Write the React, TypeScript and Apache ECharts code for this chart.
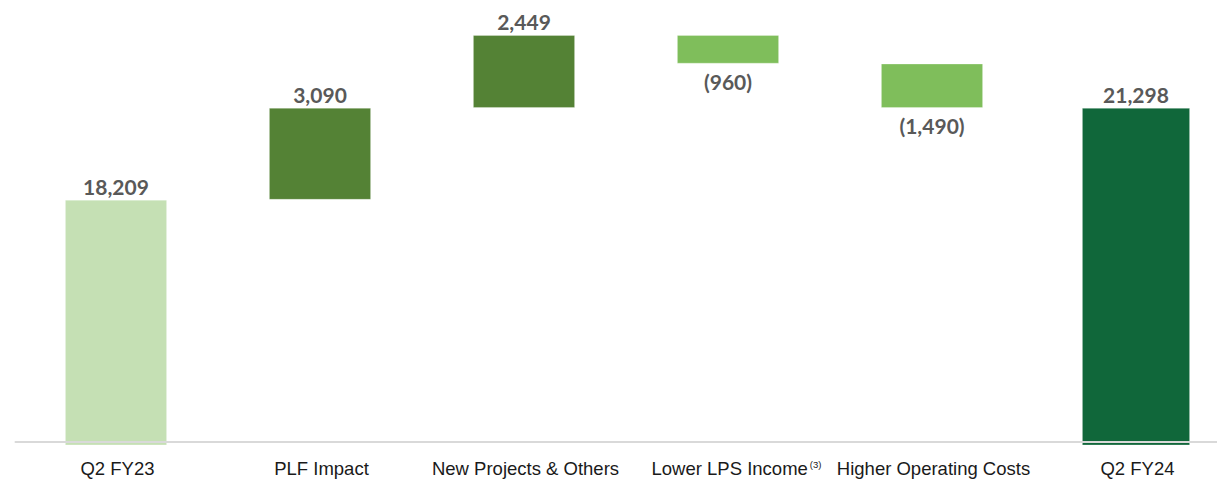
import React, { useEffect, useRef } from "react";
import * as echarts from "echarts";

const categories = [
  "Q2 FY23",
  "PLF Impact",
  "New Projects & Others",
  "Lower LPS Income",
  "Higher Operating Costs",
  "Q2 FY24",
];
const values = [18209, 3090, 2449, -960, -1490, 21298];
const isTotal = [true, false, false, false, false, true];
const barColors = ["#c5e0b4", "#548235", "#548235", "#7fbe5b", "#7fbe5b", "#10673a"];

const fmt = (v: number) =>
  v < 0 ? `(${Math.abs(v).toLocaleString("en-US")})` : v.toLocaleString("en-US");

export default function App() {
  const ref = useRef<HTMLDivElement>(null);

  useEffect(() => {
    if (!ref.current) return;
    const chart = echarts.init(ref.current, null, { renderer: "svg" });

    const lastIdx = values.length - 1;
    const base: any[] = [];
    const visible: any[] = [];
    const finalBar: any[] = [];
    let running = 0;
    values.forEach((v, i) => {
      let b = 0;
      if (isTotal[i]) {
        b = 0;
        running = v;
      } else {
        const next = running + v;
        b = Math.min(running, next);
        running = next;
      }
      const neg = v < 0;
      const item = {
        value: Math.abs(v),
        itemStyle: {
          color: barColors[i],
          borderColor: "rgba(255,255,255,0.35)",
          borderWidth: 0.8,
        },
        label: {
          position: neg ? "bottom" : "top",
          distance: neg ? 7 : 3,
        },
      };
      if (i === lastIdx) {
        base.push("-");
        visible.push("-");
        finalBar.push(item);
      } else {
        base.push(b);
        visible.push(item);
        finalBar.push("-");
      }
    });

    const labelStyle = {
      show: true,
      fontFamily: "Lato",
      fontWeight: "bold",
      fontSize: 21,
      color: "#595959",
      formatter: (p: any) => fmt(values[p.dataIndex]),
    };

    chart.setOption({
      animation: false,
      grid: {
        left: 15.5,
        top: 35,
        width: 1224,
        height: 410,
        outerBoundsMode: "none",
        containLabel: false,
      },
      xAxis: {
        type: "category",
        data: categories,
        offset: -3,
        z: 10,
        axisLine: { show: true, lineStyle: { color: "#d9d9d9", width: 2 } },
        axisTick: { show: false },
        axisLabel: {
          interval: 0,
          margin: 17,
          fontFamily: "Liberation Sans",
          fontSize: 18.5,
          lineHeight: 18.5,
          color: "#1a1a1a",
          formatter: (v: string) =>
            v === "Lower LPS Income" ? `{pad|}{a|${v}}{sup|(3)}` : v,
          rich: {
            pad: { width: 14, fontSize: 18.5, lineHeight: 18.5, fontFamily: "Liberation Sans" },
            a: { fontSize: 18.5, lineHeight: 18.5, fontFamily: "Liberation Sans", color: "#1a1a1a" },
            sup: {
              fontSize: 9.5,
              fontFamily: "Liberation Sans",
              color: "#1a1a1a",
              verticalAlign: "top",
              lineHeight: 10,
              padding: [0, 0, 0, 2],
            },
          },
        },
      },
      yAxis: {
        type: "value",
        show: false,
        min: 9960,
        max: 23750,
        splitLine: { show: false },
      },
      series: [
        {
          type: "bar",
          stack: "w",
          data: base,
          barWidth: 102,
          barGap: "-102.94%",
          itemStyle: { color: "transparent" },
          silent: true,
        },
        {
          type: "bar",
          stack: "w",
          data: visible,
          barWidth: 102,
          barGap: "-102.94%",
          label: labelStyle,
        },
        {
          type: "bar",
          stack: "z",
          data: finalBar,
          barWidth: 108,
          barGap: "-102.94%",
          label: labelStyle,
        },
      ],
    });

    return () => chart.dispose();
  }, []);

  return (
    <div
      ref={ref}
      style={{ position: "fixed", left: 0, top: 0, width: 1240, height: 479, background: "#fff" }}
    />
  );
}
